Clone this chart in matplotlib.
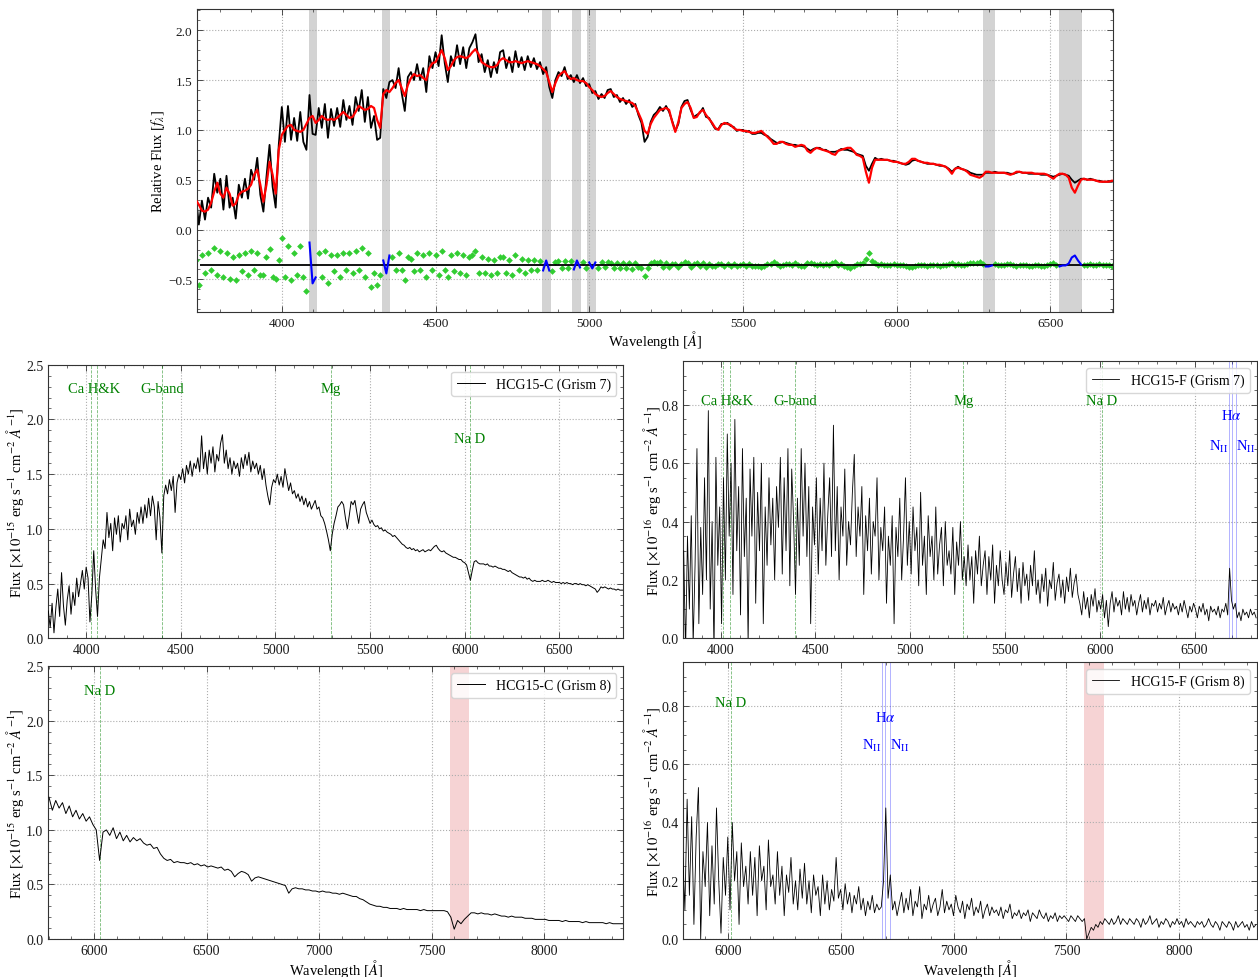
import numpy as np
import matplotlib
matplotlib.use("Agg")
import matplotlib.pyplot as plt
from matplotlib.ticker import AutoMinorLocator, MultipleLocator

plt.rcParams["font.family"] = "serif"
plt.rcParams["font.serif"] = ["Liberation Serif", "DejaVu Serif"]
plt.rcParams["mathtext.fontset"] = "stix"

# ---------------------------------------------------------------------------
# Full-spectrum fit of HCG15-C (relative flux, 10 A sampling from 3720 A)
# ---------------------------------------------------------------------------
fit_start, fit_step = 3720, 10
fit_obs = [
    0.35, 0.05, 0.29, 0.10, 0.32, 0.22, 0.56, 0.37, 0.51, 0.20,
    0.54, 0.22, 0.32, 0.11, 0.45, 0.32, 0.51, 0.31, 0.60, 0.50,
    0.72, 0.35, 0.18, 0.53, 0.85, 0.43, 0.22, 0.85, 1.23, 0.88,
    1.24, 0.90, 1.12, 0.89, 1.18, 0.88, 0.80, 1.35, 0.96, 0.95,
    1.22, 1.02, 1.26, 0.92, 1.21, 1.04, 1.22, 1.03, 1.30, 1.10,
    1.24, 1.05, 1.33, 1.19, 1.40, 1.08, 1.33, 1.02, 1.14, 0.90,
    0.92, 1.41, 1.32, 1.48, 1.50, 1.42, 1.62, 1.37, 1.19, 1.53,
    1.58, 1.50, 1.66, 1.50, 1.62, 1.38, 1.74, 1.62, 1.78, 1.64,
    1.95, 1.67, 1.48, 1.74, 1.64, 1.85, 1.66, 1.83, 1.62, 1.82,
    1.88, 1.96, 1.68, 1.76, 1.58, 1.70, 1.53, 1.68, 1.57, 1.78,
    1.80, 1.62, 1.73, 1.58, 1.79, 1.63, 1.73, 1.60, 1.74, 1.63,
    1.72, 1.61, 1.68, 1.56, 1.63, 1.43, 1.32, 1.50, 1.58, 1.54,
    1.63, 1.51, 1.55, 1.48, 1.55, 1.47, 1.52, 1.44, 1.46, 1.37,
    1.39, 1.31, 1.36, 1.32, 1.40, 1.41, 1.33, 1.35, 1.28, 1.32,
    1.26, 1.30, 1.23, 1.26, 1.15, 1.07, 0.88, 0.93, 1.08, 1.15,
    1.18, 1.23, 1.19, 1.24, 1.18, 1.09, 0.99, 1.06, 1.23, 1.29,
    1.30, 1.20, 1.13, 1.15, 1.17, 1.22, 1.13, 1.12, 1.06, 1.01,
    1.01, 1.06, 1.06, 1.07, 1.04, 1.03, 0.99, 1.00, 1.00, 0.98,
    0.99, 0.96, 0.96, 0.97, 0.97, 0.95, 0.94, 0.91, 0.89, 0.87,
    0.87, 0.88, 0.87, 0.86, 0.85, 0.85, 0.84, 0.84, 0.83, 0.81,
    0.79, 0.81, 0.82, 0.82, 0.80, 0.80, 0.78, 0.78, 0.78, 0.79,
    0.81, 0.80, 0.80, 0.79, 0.78, 0.76, 0.75, 0.74, 0.64, 0.59,
    0.66, 0.72, 0.70, 0.71, 0.70, 0.70, 0.69, 0.69, 0.68, 0.67,
    0.66, 0.65, 0.66, 0.69, 0.70, 0.69, 0.68, 0.67, 0.66, 0.66,
    0.66, 0.65, 0.64, 0.64, 0.63, 0.61, 0.58, 0.61, 0.63, 0.61,
    0.60, 0.59, 0.57, 0.56, 0.55, 0.55, 0.55, 0.57, 0.57, 0.57,
    0.58, 0.57, 0.57, 0.57, 0.57, 0.56, 0.56, 0.57, 0.58, 0.57,
    0.57, 0.56, 0.56, 0.56, 0.56, 0.55, 0.55, 0.55, 0.54, 0.53,
    0.54, 0.55, 0.56, 0.55, 0.54, 0.50, 0.47, 0.49, 0.51, 0.51,
    0.50, 0.51, 0.50, 0.49, 0.49, 0.48, 0.48, 0.48, 0.48, 0.49,
]
fit_model = [
    0.30, 0.25, 0.19, 0.18, 0.20, 0.27, 0.38, 0.47, 0.36, 0.32,
    0.42, 0.36, 0.24, 0.26, 0.35, 0.38, 0.39, 0.41, 0.45, 0.55,
    0.60, 0.45, 0.28, 0.45, 0.68, 0.55, 0.36, 0.80, 0.95, 1.00,
    1.04, 1.05, 1.00, 0.99, 0.98, 1.00, 1.06, 1.12, 1.14, 1.07,
    1.10, 1.14, 1.11, 1.10, 1.11, 1.10, 1.12, 1.15, 1.18, 1.15,
    1.12, 1.13, 1.18, 1.24, 1.22, 1.20, 1.21, 1.24, 1.22, 1.10,
    1.02, 1.36, 1.40, 1.38, 1.42, 1.47, 1.50, 1.42, 1.34, 1.45,
    1.52, 1.56, 1.54, 1.55, 1.52, 1.50, 1.62, 1.67, 1.68, 1.74,
    1.80, 1.72, 1.60, 1.64, 1.70, 1.73, 1.74, 1.73, 1.72, 1.74,
    1.78, 1.81, 1.76, 1.68, 1.66, 1.64, 1.63, 1.63, 1.65, 1.70,
    1.72, 1.70, 1.68, 1.68, 1.69, 1.68, 1.67, 1.68, 1.69, 1.68,
    1.67, 1.66, 1.64, 1.61, 1.58, 1.48, 1.38, 1.47, 1.54, 1.57,
    1.59, 1.54, 1.51, 1.52, 1.50, 1.49, 1.49, 1.47, 1.43, 1.40,
    1.36, 1.34, 1.33, 1.34, 1.37, 1.39, 1.36, 1.33, 1.31, 1.30,
    1.29, 1.28, 1.27, 1.24, 1.17, 1.10, 0.99, 0.96, 1.06, 1.12,
    1.16, 1.20, 1.21, 1.22, 1.20, 1.08, 0.98, 1.08, 1.22, 1.26,
    1.28, 1.22, 1.12, 1.13, 1.18, 1.20, 1.15, 1.11, 1.07, 1.02,
    1.00, 1.05, 1.07, 1.06, 1.05, 1.02, 1.00, 1.00, 0.99, 0.99,
    0.98, 0.97, 0.97, 0.98, 0.99, 0.96, 0.93, 0.90, 0.86, 0.86,
    0.88, 0.88, 0.86, 0.85, 0.85, 0.83, 0.84, 0.85, 0.84, 0.79,
    0.77, 0.80, 0.82, 0.81, 0.80, 0.79, 0.78, 0.76, 0.75, 0.79,
    0.80, 0.81, 0.82, 0.82, 0.79, 0.75, 0.74, 0.72, 0.58, 0.47,
    0.62, 0.70, 0.70, 0.70, 0.70, 0.70, 0.69, 0.68, 0.68, 0.67,
    0.66, 0.66, 0.68, 0.71, 0.71, 0.69, 0.68, 0.67, 0.67, 0.66,
    0.66, 0.65, 0.65, 0.64, 0.63, 0.60, 0.56, 0.61, 0.62, 0.61,
    0.60, 0.58, 0.55, 0.54, 0.53, 0.52, 0.54, 0.58, 0.58, 0.57,
    0.57, 0.57, 0.57, 0.57, 0.56, 0.55, 0.56, 0.58, 0.58, 0.57,
    0.57, 0.57, 0.57, 0.56, 0.56, 0.56, 0.56, 0.55, 0.53, 0.51,
    0.54, 0.56, 0.56, 0.55, 0.52, 0.42, 0.37, 0.44, 0.50, 0.51,
    0.50, 0.50, 0.50, 0.49, 0.48, 0.48, 0.48, 0.48, 0.49, 0.49,
]
resid_zero = -0.36
mask_lo = [4089, 4326, 4847, 4944, 4994, 6281, 6528]
mask_hi = [4114, 4352, 4875, 4973, 5021, 6319, 6602]

# ---------------------------------------------------------------------------
# Redshifts and rest wavelengths of the marked features
# ---------------------------------------------------------------------------
z_c, z_f = 0.0227, 0.0203
ca_hk = [3933.7, 3968.5]
g_band = 4304.4
mg_b = 5175.4
na_d = 5892.9
nii_blue, h_alpha, nii_red = 6548.1, 6562.8, 6583.5

# ---------------------------------------------------------------------------
# Long-slit spectra (flux in 1e-15 / 1e-16 erg/s/cm2/A)
# ---------------------------------------------------------------------------
c7_start, c7_step = 3800, 10
c7_flux = [
    0.25, 0.10, 0.32, 0.05, 0.28, 0.45, 0.20, 0.60, 0.30, 0.12,
    0.35, 0.48, 0.22, 0.42, 0.30, 0.55, 0.38, 0.50, 0.62, 0.45,
    0.65, 0.55, 0.15, 0.40, 0.80, 0.45, 0.20, 0.55, 0.72, 0.90,
    0.82, 1.15, 0.92, 1.05, 0.80, 1.10, 0.95, 1.12, 0.88, 1.05,
    1.00, 1.12, 0.90, 1.18, 1.02, 1.08, 0.95, 1.15, 1.05, 1.20,
    1.05, 1.22, 1.10, 1.28, 1.12, 1.30, 1.20, 0.90, 1.25, 1.10,
    0.78, 1.30, 1.40, 1.32, 1.45, 1.35, 1.48, 1.15, 1.42, 1.50,
    1.45, 1.55, 1.42, 1.58, 1.50, 1.62, 1.48, 1.60, 1.55, 1.65,
    1.52, 1.85, 1.55, 1.70, 1.50, 1.72, 1.60, 1.75, 1.52, 1.68,
    1.62, 1.78, 1.86, 1.60, 1.72, 1.55, 1.65, 1.50, 1.62, 1.55,
    1.60, 1.48, 1.65, 1.55, 1.68, 1.58, 1.70, 1.52, 1.62, 1.55,
    1.60, 1.50, 1.58, 1.45, 1.55, 1.40, 1.30, 1.22, 1.38, 1.45,
    1.42, 1.50, 1.40, 1.48, 1.38, 1.55, 1.45, 1.35, 1.42, 1.32,
    1.35, 1.28, 1.32, 1.25, 1.30, 1.22, 1.28, 1.20, 1.25, 1.18,
    1.22, 1.26, 1.18, 1.20, 1.12, 1.10, 1.05, 0.98, 0.90, 0.80,
    0.95, 1.05, 1.12, 1.20, 1.22, 1.25, 1.22, 1.10, 1.00, 1.12,
    1.25, 1.22, 1.26, 1.15, 1.05, 1.18, 1.22, 1.25, 1.15, 1.10,
    1.05, 1.08, 1.04, 1.02, 1.03, 1.00, 1.01, 0.98, 0.99, 0.97,
    0.96, 0.95, 0.93, 0.94, 0.92, 0.90, 0.88, 0.86, 0.85, 0.83,
    0.82, 0.83, 0.81, 0.82, 0.80, 0.81, 0.79, 0.80, 0.81, 0.79,
    0.80, 0.81, 0.80, 0.82, 0.84, 0.85, 0.82, 0.80, 0.79, 0.80,
    0.78, 0.77, 0.76, 0.75, 0.74, 0.74, 0.73, 0.72, 0.72, 0.70,
    0.69, 0.67, 0.60, 0.53, 0.62, 0.70, 0.71, 0.69, 0.68, 0.68,
    0.68, 0.67, 0.68, 0.66, 0.66, 0.65, 0.66, 0.65, 0.64, 0.64,
    0.63, 0.63, 0.62, 0.61, 0.62, 0.60, 0.59, 0.58, 0.57, 0.56,
    0.56, 0.55, 0.56, 0.54, 0.55, 0.53, 0.52, 0.53, 0.52, 0.52,
    0.52, 0.53, 0.52, 0.52, 0.53, 0.52, 0.51, 0.52, 0.51, 0.51,
    0.51, 0.50, 0.51, 0.50, 0.51, 0.50, 0.50, 0.49, 0.50, 0.50,
    0.49, 0.50, 0.49, 0.49, 0.48, 0.49, 0.48, 0.47, 0.46, 0.45,
    0.42, 0.44, 0.47, 0.46, 0.47, 0.46, 0.45, 0.46, 0.45, 0.45,
    0.44, 0.45, 0.44, 0.44, 0.44,
]
c8_start, c8_step = 5800, 15
c8_flux = [
    1.30, 1.18, 1.27, 1.20, 1.25, 1.15, 1.22, 1.12, 1.18, 1.10,
    1.15, 1.08, 1.12, 1.05, 1.00, 0.72, 0.98, 1.00, 0.95, 1.02,
    0.92, 0.98, 0.90, 0.95, 0.89, 0.93, 0.90, 0.92, 0.88, 0.86,
    0.87, 0.83, 0.84, 0.78, 0.74, 0.72, 0.73, 0.70, 0.71, 0.70,
    0.70, 0.69, 0.70, 0.68, 0.69, 0.67, 0.68, 0.66, 0.67, 0.66,
    0.65, 0.66, 0.63, 0.64, 0.62, 0.57, 0.60, 0.62, 0.61, 0.59,
    0.53, 0.56, 0.57, 0.56, 0.55, 0.54, 0.53, 0.52, 0.51, 0.50,
    0.49, 0.42, 0.46, 0.47, 0.46, 0.46, 0.45, 0.45, 0.44, 0.44,
    0.43, 0.44, 0.43, 0.43, 0.42, 0.42, 0.41, 0.42, 0.41, 0.40,
    0.39, 0.39, 0.37, 0.36, 0.34, 0.32, 0.31, 0.30, 0.30, 0.29,
    0.29, 0.28, 0.28, 0.28, 0.27, 0.28, 0.27, 0.27, 0.27, 0.27,
    0.26, 0.27, 0.26, 0.26, 0.26, 0.26, 0.26, 0.26, 0.25, 0.20,
    0.09, 0.17, 0.14, 0.18, 0.21, 0.24, 0.24, 0.23, 0.24, 0.23,
    0.23, 0.22, 0.23, 0.22, 0.21, 0.21, 0.20, 0.21, 0.20, 0.20,
    0.20, 0.19, 0.19, 0.19, 0.18, 0.18, 0.18, 0.18, 0.17, 0.17,
    0.17, 0.17, 0.16, 0.17, 0.16, 0.16, 0.16, 0.16, 0.15, 0.16,
    0.15, 0.15, 0.15, 0.15, 0.15, 0.14, 0.15, 0.14, 0.14, 0.14,
    0.14,
]
f7_start, f7_step = 3805, 10
f7_flux = [
    0.30, -0.05, 0.35, 0.10, 0.42, -0.02, 0.25, 0.65, 0.05, 0.38,
    0.15, 0.55, 0.20, 0.78, 0.10, 0.40, -0.05, 0.62, 0.25, 0.45,
    0.05, 0.55, 0.20, 0.70, 0.35, 0.60, 0.15, 0.75, 0.30, 0.52,
    0.08, 0.65, 0.28, 0.48, -0.02, 0.58, 0.35, 0.62, 0.12, 0.50,
    0.30, 0.60, 0.05, 0.45, 0.25, 0.55, 0.32, 0.48, 0.20, 0.52,
    0.38, 0.62, 0.22, 0.55, 0.30, 0.65, 0.18, 0.58, 0.40, 0.15,
    0.48, 0.25, 0.65, 0.35, 0.60, 0.28, 0.52, 0.05, 0.45, 0.32,
    0.55, 0.22, 0.48, 0.30, 0.60, 0.25, 0.42, 0.55, 0.28, 0.73,
    0.30, 0.52, 0.20, 0.45, 0.35, 0.58, 0.25, 0.40, 0.32, 0.50,
    0.63, 0.28, 0.45, 0.35, 0.52, 0.15, 0.42, 0.30, 0.48, 0.22,
    0.40, 0.35, 0.55, 0.20, 0.38, 0.30, 0.45, 0.12, 0.35, 0.25,
    0.42, 0.05, 0.38, 0.28, 0.48, 0.20, 0.35, 0.55, 0.25, 0.40,
    0.22, 0.45, 0.30, 0.38, 0.18, 0.50, 0.25, 0.35, 0.15, 0.42,
    0.28, 0.35, 0.20, 0.45, 0.22, 0.32, 0.38, 0.18, 0.40, 0.25,
    0.30, 0.22, 0.38, 0.15, 0.33, 0.25, 0.40, 0.20, 0.28, 0.18,
    0.32, 0.20, 0.28, 0.12, 0.30, 0.22, 0.35, 0.18, 0.25, 0.30,
    0.15, 0.28, 0.20, 0.32, 0.12, 0.25, 0.18, 0.30, 0.20, 0.15,
    0.26, 0.18, 0.30, 0.14, 0.22, 0.28, 0.16, 0.24, 0.12, 0.26,
    0.18, 0.22, 0.13, 0.25, 0.18, 0.30, 0.15, 0.20, 0.12, 0.22,
    0.16, 0.24, 0.11, 0.20, 0.17, 0.26, 0.13, 0.19, 0.22, 0.14,
    0.20, 0.12, 0.21, 0.16, 0.24, 0.14, 0.19, 0.22, 0.15, 0.12,
    0.08, 0.16, 0.10, 0.14, 0.07, 0.15, 0.11, 0.17, 0.09, 0.13,
    0.10, 0.15, 0.07, 0.13, 0.04, 0.12, 0.16, 0.09, 0.14, 0.11,
    0.13, 0.08, 0.16, 0.10, 0.14, 0.09, 0.15, 0.11, 0.13, 0.08,
    0.12, 0.15, 0.09, 0.13, 0.10, 0.14, 0.08, 0.12, 0.11, 0.13,
    0.09, 0.12, 0.10, 0.14, 0.08, 0.11, 0.13, 0.09, 0.12, 0.10,
    0.11, 0.08, 0.12, 0.09, 0.13, 0.10, 0.07, 0.11, 0.09, 0.12,
    0.10, 0.07, 0.11, 0.09, 0.12, 0.08, 0.10, 0.06, 0.11, 0.09,
    0.10, 0.08, 0.11, 0.07, 0.10, 0.09, 0.12, 0.08, 0.24, 0.13,
    0.10, 0.12, 0.07, 0.09, 0.06, 0.10, 0.08, 0.09, 0.07, 0.10,
    0.08, 0.09, 0.07,
]
f8_start, f8_step = 5800, 10
f8_flux = [
    0.30, 0.10, 0.48, 0.15, 0.42, 0.05, 0.35, 0.52, 0.00, 0.30,
    0.18, 0.40, 0.08, 0.32, 0.12, 0.45, 0.20, 0.02, 0.28, 0.15,
    0.35, 0.10, 0.40, 0.20, 0.30, 0.05, 0.33, 0.18, 0.25, 0.12,
    0.30, 0.15, 0.28, 0.08, 0.32, 0.20, 0.25, 0.10, 0.34, 0.18,
    0.22, 0.12, 0.30, 0.15, 0.25, 0.08, 0.22, 0.16, 0.28, 0.12,
    0.20, 0.10, 0.24, 0.14, 0.26, 0.12, 0.20, 0.09, 0.22, 0.15,
    0.18, 0.08, 0.22, 0.12, 0.20, 0.10, 0.17, 0.13, 0.28, 0.14,
    0.17, 0.10, 0.19, 0.12, 0.16, 0.09, 0.15, 0.12, 0.18, 0.10,
    0.14, 0.08, 0.13, 0.10, 0.15, 0.09, 0.12, 0.10, 0.11, 0.20,
    0.45, 0.14, 0.22, 0.10, 0.13, 0.08, 0.12, 0.16, 0.09, 0.14,
    0.10, 0.17, 0.08, 0.13, 0.11, 0.18, 0.07, 0.12, 0.10, 0.15,
    0.09, 0.12, 0.14, 0.08, 0.11, 0.17, 0.09, 0.13, 0.10, 0.12,
    0.08, 0.15, 0.11, 0.09, 0.13, 0.07, 0.12, 0.10, 0.14, 0.08,
    0.11, 0.09, 0.13, 0.07, 0.10, 0.12, 0.08, 0.11, 0.09, 0.10,
    0.08, 0.11, 0.07, 0.10, 0.09, 0.12, 0.07, 0.09, 0.08, 0.10,
    0.07, 0.09, 0.08, 0.10, 0.06, 0.09, 0.08, 0.07, 0.10, 0.08,
    0.07, 0.09, 0.06, 0.08, 0.07, 0.09, 0.06, 0.08, 0.07, 0.08,
    0.07, 0.06, 0.08, 0.07, 0.06, 0.08, 0.07, 0.06, 0.07, 0.00,
    0.02, 0.04, 0.03, 0.05, 0.04, 0.06, 0.05, 0.07, 0.06, 0.05,
    0.07, 0.05, 0.06, 0.08, 0.05, 0.07, 0.06, 0.05, 0.07, 0.06,
    0.05, 0.07, 0.06, 0.04, 0.07, 0.05, 0.06, 0.08, 0.05, 0.06,
    0.07, 0.04, 0.06, 0.05, 0.07, 0.06, 0.04, 0.06, 0.05, 0.07,
    0.05, 0.06, 0.04, 0.07, 0.05, 0.06, 0.05, 0.04, 0.06, 0.05,
    0.06, 0.04, 0.05, 0.07, 0.05, 0.04, 0.06, 0.05, 0.03, 0.06,
    0.05, 0.04, 0.06, 0.05, 0.03, 0.06, 0.04, 0.05, 0.06, 0.04,
    0.05, 0.03, 0.06, 0.04, 0.05,
]
telluric_band = (7580, 7665)

# ---------------------------------------------------------------------------
# Figure layout
# ---------------------------------------------------------------------------
W, H = 1258, 978
fig = plt.figure(figsize=(W / 100, H / 100), dpi=100)


def box(left, top, right, bottom):
    return [left / W, 1 - bottom / H, (right - left) / W, (bottom - top) / H]


ax_fit = fig.add_axes(box(197.3, 10.3, 1113.3, 313.3))
ax_c7 = fig.add_axes(box(48.3, 365.7, 623.3, 639.3))
ax_c8 = fig.add_axes(box(48.3, 667.3, 623.3, 940.0))
ax_f7 = fig.add_axes(box(683.3, 362.0, 1256.7, 639.3))
ax_f8 = fig.add_axes(box(683.3, 663.3, 1256.7, 940.0))


def style(ax, xmajor, ymajor, labelsize=10):
    ax.xaxis.set_major_locator(MultipleLocator(xmajor))
    ax.yaxis.set_major_locator(MultipleLocator(ymajor))
    ax.xaxis.set_minor_locator(AutoMinorLocator())
    ax.yaxis.set_minor_locator(AutoMinorLocator())
    ax.tick_params(which="both", direction="in", top=True, right=True,
                   labelsize=labelsize, color="0.2", labelcolor="0.1")
    ax.tick_params(which="major", length=4.5, width=0.6)
    ax.tick_params(which="minor", length=2.3, width=0.5)
    ax.grid(True, which="major", ls=":", color="0.68", lw=0.8)
    ax.set_axisbelow(True)
    for sp in ax.spines.values():
        sp.set_linewidth(0.8)
        sp.set_color("0.2")


WAVE_LABEL = r"Wavelength [$\AA$]"
FLUX15 = r"Flux [$\times10^{-15}$ erg s$^{-1}$ cm$^{-2}$ $\AA^{-1}$]"
FLUX16 = r"Flux [$\times10^{-16}$ erg s$^{-1}$ cm$^{-2}$ $\AA^{-1}$]"

# ---------------------------------------------------------------------------
# Top: spectral fit with residuals
# ---------------------------------------------------------------------------
fit_wave = fit_start + fit_step * np.arange(len(fit_obs))
obs = np.array(fit_obs)
model = np.array(fit_model)
resid = obs - model + resid_zero

masked = np.zeros(len(fit_wave), dtype=bool)
for lo, hi in zip(mask_lo, mask_hi):
    ax_fit.axvspan(lo, hi, color="lightgray", lw=0, zorder=0.5)
    masked |= (fit_wave >= lo) & (fit_wave <= hi)

ax_fit.plot(fit_wave, obs, color="black", lw=1.3, zorder=2)
ax_fit.plot(fit_wave, model, color="red", lw=1.6, zorder=3)
ax_fit.plot(fit_wave[~masked], resid[~masked], "D", color="limegreen",
            ms=3.4, mew=0, zorder=2)
ax_fit.hlines(resid_zero, fit_wave[0] + 15, fit_wave[-1], color="black",
              lw=1.3, zorder=3)
for lo, hi in zip(mask_lo, mask_hi):
    sel = (fit_wave >= lo) & (fit_wave <= hi)
    ax_fit.plot(fit_wave[sel], resid[sel], color="blue", lw=1.5, zorder=4)

ax_fit.set_xlim(3725, 6705)
ax_fit.set_ylim(-0.83, 2.21)
style(ax_fit, 500, 0.5, labelsize=9.5)
ax_fit.set_xlabel(WAVE_LABEL, fontsize=10.5, labelpad=-1)
ax_fit.set_ylabel(r"Relative Flux [$f_\lambda$]", fontsize=10.5, labelpad=1)


# ---------------------------------------------------------------------------
# Bottom: long-slit spectra of HCG15-C and HCG15-F
# ---------------------------------------------------------------------------
def mark_absorption(ax, z, labels, lines):
    xmin, xmax = ax.get_xlim()
    for w in lines:
        w_obs = w * (1 + z)
        if xmin < w_obs < xmax:
            ax.axvline(w_obs, color="green", ls="--", lw=0.6, alpha=0.55,
                       zorder=1)
    for text, w, y in labels:
        ax.text(w * (1 + z), y, text, color="green", fontsize=10.5,
                ha="center", va="center", zorder=5)


def mark_emission(ax, z, y_ha, y_nii):
    for w in (nii_blue, h_alpha, nii_red):
        ax.axvline(w * (1 + z), color="blue", lw=0.7, alpha=0.3, zorder=1)
    ax.text(h_alpha * (1 + z), y_ha, r"H$\alpha$", color="blue",
            fontsize=10.5, ha="center", va="center")
    ax.text(nii_blue * (1 + z), y_nii, r"N$_{\rm II}$", color="blue",
            fontsize=10.5, ha="right", va="center")
    ax.text(nii_red * (1 + z), y_nii, r"N$_{\rm II}$", color="blue",
            fontsize=10.5, ha="left", va="center")


def spectrum(ax, start, step, flux, label, lw):
    wave = start + step * np.arange(len(flux))
    ax.plot(wave, flux, color="black", lw=lw, label=label, zorder=3)
    ax.legend(loc="upper right", fontsize=10, fancybox=True,
              edgecolor="0.82", framealpha=0.85)


# HCG15-C, grism 7
spectrum(ax_c7, c7_start, c7_step, c7_flux, "HCG15-C (Grism 7)", 0.7)
ax_c7.set_xlim(3800, 6838)
ax_c7.set_ylim(0, 2.5)
style(ax_c7, 500, 0.5)
mark_absorption(ax_c7, z_c,
                [("Ca H&K", np.mean(ca_hk), 2.28), ("G-band", g_band, 2.28),
                 ("Mg", mg_b, 2.28), ("Na D", na_d, 1.83)],
                ca_hk + [g_band, mg_b, na_d])
ax_c7.set_ylabel(FLUX15, fontsize=10.5, labelpad=0)

# HCG15-C, grism 8
ax_c8.axvspan(*telluric_band, color="tab:red", alpha=0.2, lw=0, zorder=0.5)
spectrum(ax_c8, c8_start, c8_step, c8_flux, "HCG15-C (Grism 8)", 0.7)
ax_c8.set_xlim(5797, 8351)
ax_c8.set_ylim(0, 2.5)
style(ax_c8, 500, 0.5)
mark_absorption(ax_c8, z_c, [("Na D", na_d, 2.28)], [na_d])
ax_c8.set_ylabel(FLUX15, fontsize=10.5, labelpad=0)
ax_c8.set_xlabel(WAVE_LABEL, fontsize=10.5, labelpad=0)

# HCG15-F, grism 7
spectrum(ax_f7, f7_start, f7_step, f7_flux, "HCG15-F (Grism 7)", 0.6)
ax_f7.set_xlim(3803, 6828)
ax_f7.set_ylim(0, 0.95)
style(ax_f7, 500, 0.2)
mark_absorption(ax_f7, z_f,
                [("Ca H&K", np.mean(ca_hk), 0.815), ("G-band", g_band, 0.815),
                 ("Mg", mg_b, 0.815), ("Na D", na_d, 0.815)],
                ca_hk + [g_band, mg_b, na_d])
mark_emission(ax_f7, z_f, 0.766, 0.66)
ax_f7.set_ylabel(FLUX16, fontsize=10.5, labelpad=-1)

# HCG15-F, grism 8
ax_f8.axvspan(*telluric_band, color="tab:red", alpha=0.2, lw=0, zorder=0.5)
spectrum(ax_f8, f8_start, f8_step, f8_flux, "HCG15-F (Grism 8)", 0.6)
ax_f8.set_xlim(5803, 8343)
ax_f8.set_ylim(0, 0.95)
style(ax_f8, 500, 0.2)
mark_absorption(ax_f8, z_f, [("Na D", na_d, 0.813)], [na_d])
mark_emission(ax_f8, z_f, 0.763, 0.666)
ax_f8.set_ylabel(FLUX16, fontsize=10.5, labelpad=-1)
ax_f8.set_xlabel(WAVE_LABEL, fontsize=10.5, labelpad=0)

fig.savefig("out.png", dpi=100)
